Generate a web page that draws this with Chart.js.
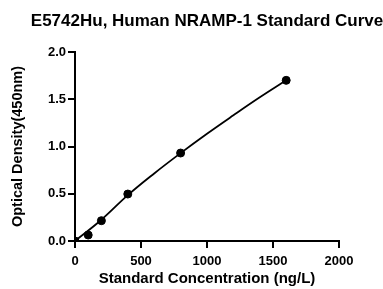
<!DOCTYPE html>
<html>
<head>
<meta charset="utf-8">
<script src="https://cdn.jsdelivr.net/npm/chart.js@4"></script>
<style>
html,body{margin:0;padding:0;background:#fff;}
#wrap{width:383px;height:289px;position:relative;}
</style>
</head>
<body>
<div id="wrap"><canvas id="c" width="383" height="289"></canvas></div>
<script>
const titleText = "E5742Hu, Human NRAMP-1 Standard Curve";
const xTitle = "Standard Concentration (ng/L)";
const yTitle = "Optical Density(450nm)";
const concentrations = [0, 100, 200, 400, 800, 1600];
const odValues = [0.0, 0.063, 0.215, 0.497, 0.931, 1.70];
const curveX = [0, 200, 400, 600, 800, 1000, 1200, 1400, 1600];
const curveY = [0.0, 0.225, 0.485, 0.715, 0.93, 1.135, 1.33, 1.52, 1.70];
const xTicks = [0, 500, 1000, 1500, 2000];
const yTicks = [0.0, 0.5, 1.0, 1.5, 2.0];

const FONT = "'Liberation Sans', Arial, sans-serif";

const titlePlugin = {
  id: 'customTitle',
  afterDraw(chart) {
    const ctx = chart.ctx;
    ctx.save();
    ctx.font = "bold 17px " + FONT;
    ctx.fillStyle = '#000';
    ctx.textAlign = 'center';
    ctx.textBaseline = 'middle';
    const a = chart.chartArea;
    ctx.fillText(titleText, (a.left + a.right) / 2, 21);
    ctx.restore();
  }
};

new Chart(document.getElementById('c'), {
  type: 'scatter',
  data: {
    datasets: [
      {
        type: 'line',
        data: curveX.map((x, i) => ({x: x, y: curveY[i]})),
        borderColor: '#000',
        borderWidth: 1.8,
        pointRadius: 0,
        fill: false,
        tension: 0.4
      },
      {
        data: concentrations.map((x, i) => ({x: x, y: odValues[i]})),
        backgroundColor: '#000',
        borderColor: '#000',
        pointRadius: 4,
        pointHoverRadius: 4
      }
    ]
  },
  options: {
    responsive: false,
    animation: false,
    events: [],
    layout: {padding: {top: 52, right: 44, left: 0, bottom: 0}},
    plugins: {legend: {display: false}, tooltip: {enabled: false}, title: {display: false}},
    scales: {
      x: {
        type: 'linear',
        min: 0, max: 2000,
        afterFit(s) { s.height = 48; },
        afterBuildTicks(s) { s.ticks = xTicks.map(v => ({value: v})); },
        grid: {display: true, drawOnChartArea: false, drawTicks: true, tickLength: 7, color: '#000', lineWidth: 2},
        border: {display: true, color: '#000', width: 2},
        ticks: {color: '#000', font: {family: FONT, size: 13, weight: 'bold'}, padding: 6, maxRotation: 0, callback: v => String(v)},
        title: {display: true, text: xTitle, color: '#000', font: {family: FONT, size: 15, weight: 'bold'}, padding: {top: 0, bottom: 1}}
      },
      y: {
        type: 'linear',
        min: 0, max: 2,
        afterFit(s) { s.width = 75; },
        afterBuildTicks(s) { s.ticks = yTicks.map(v => ({value: v})); },
        grid: {display: true, drawOnChartArea: false, drawTicks: true, tickLength: 7, color: '#000', lineWidth: 2},
        border: {display: true, color: '#000', width: 2},
        ticks: {color: '#000', font: {family: FONT, size: 13, weight: 'bold'}, padding: 2, callback: v => v.toFixed(1)},
        title: {display: true, text: yTitle, color: '#000', font: {family: FONT, size: 14.5, weight: 'bold'}, padding: {top: 9, bottom: 0}}
      }
    }
  },
  plugins: [titlePlugin]
});
</script>
</body>
</html>
